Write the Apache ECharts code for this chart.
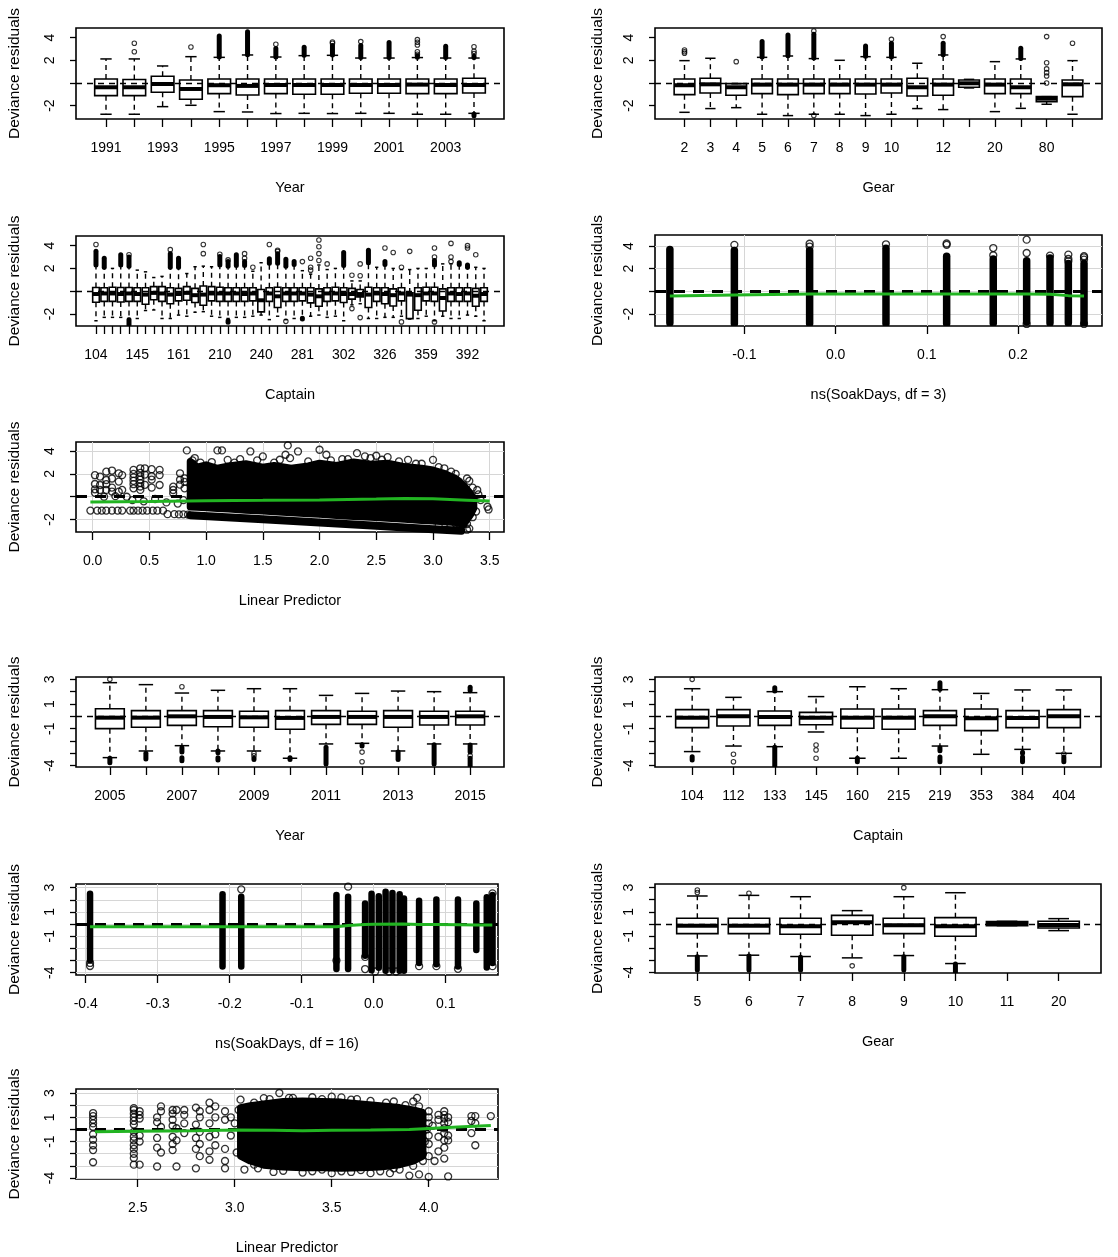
<!DOCTYPE html>
<html><head><meta charset="utf-8">
<script src="https://cdn.jsdelivr.net/npm/echarts@6/dist/echarts.min.js"></script>
<style>html,body{margin:0;padding:0;background:#fff;}#chart{width:1118px;height:1257px;}</style>
</head><body><div id="chart"></div>
<script>
// ================= DATA =================
// Box stats rows: [lower whisker, Q1, median, Q3, upper whisker]
// ---- Panel: Year 1991-2004
const year1Cats = ['1991','1992','1993','1994','1995','1996','1997','1998','1999','2000','2001','2002','2003','2004'];
const year1Labels = ['1991','1993','1995','1997','1999','2001','2003'];
const year1Stats = [
 [-2.76,-1.12,-0.38,0.35,2.12],[-2.76,-1.12,-0.38,0.30,2.12],[-2.09,-0.82,-0.09,0.59,1.50],
 [-1.97,-1.44,-0.53,0.26,2.32],[-2.53,-0.94,-0.20,0.35,2.26],[-2.56,-1.06,-0.26,0.35,2.47],
 [-2.70,-0.94,-0.18,0.35,2.29],[-2.68,-1.00,-0.18,0.35,2.41],[-2.70,-1.00,-0.18,0.35,2.44],
 [-2.68,-0.91,-0.18,0.35,2.20],[-2.68,-0.91,-0.18,0.35,2.20],[-2.76,-0.94,-0.15,0.35,2.24],
 [-2.76,-0.94,-0.18,0.35,2.20],[-2.68,-0.88,-0.18,0.41,2.20]];
const year1Out = [['1992',3.50],['1992',2.76],['1994',3.18],['1997',3.41],['1999',3.50],['1999',3.62],['2000',3.65],
 ['2002',3.82],['2002',3.59],['2002',3.35],['2002',2.76],['2002',2.53],['2004',3.20],['2004',2.80],['2004',2.60]];
const year1Runs = [['1995',2.30,4.15],['1996',2.50,4.53],['1997',2.30,3.05],['1998',2.45,3.15],['1999',2.47,3.30],
 ['2000',2.25,3.30],['2001',2.25,3.56],['2002',2.27,2.40],['2003',2.25,3.24],['2004',2.25,2.35],['2004',-2.75,-2.90]];

// ---- Panel: Gear (top)
const gear1Cats = ['2','3','4','5','6','7','8','9','10','11','12','15','20','30','80','100'];
const gear1Labels = ['2','3','4','5','6','7','8','9','10','12','20','80'];
const gear1Stats = [
 [-2.59,-1.03,-0.20,0.35,1.97],[-2.26,-0.88,-0.12,0.41,2.18],[-2.18,-1.09,-0.38,-0.06,-0.06],
 [-2.76,-0.94,-0.15,0.35,2.26],[-2.88,-1.03,-0.15,0.35,2.38],[-2.76,-0.94,-0.15,0.35,2.15],
 [-2.76,-0.94,-0.15,0.35,2.00],[-2.88,-0.97,-0.15,0.35,2.32],[-2.76,-0.88,-0.15,0.35,2.26],
 [-2.26,-1.15,-0.38,0.41,1.74],[-2.35,-1.09,-0.15,0.35,2.47],[-0.44,-0.38,-0.03,0.26,0.32],
 [-2.53,-0.94,-0.15,0.35,1.88],[-2.24,-0.94,-0.38,0.35,2.12],[-1.88,-1.65,-1.38,-1.21,-1.21],
 [-2.76,-1.21,-0.12,0.26,1.97]];
const gear1Out = [['2',2.62],['2',2.76],['2',2.91],['4',1.88],['7',4.59],['7',-2.88],['10',3.85],['12',4.09],
 ['80',0.0],['80',0.62],['80',0.91],['80',1.24],['80',1.79],['80',4.09],['100',3.5]];
const gear1Runs = [['5',2.3,3.65],['6',2.4,4.24],['7',2.2,4.3],['9',2.35,3.26],['10',2.3,3.5],['12',2.5,3.5],['30',2.15,3.06]];

// ---- Panel: Captain (top)
const captain1Cats = ['104','107','112','126','133','145','150','155','158','160','161','170','183','195','201','210',
 '213','215','219','230','240','247','255','263','270','281','285','290','295','299','302','308','312','318','322',
 '326','330','340','350','353','359','365','370','378','384','392','398','404'];
const captain1Labels = ['104','145','161','210','240','281','302','326','359','392'];
const captain1Stats = [
 [-2.6,-0.97,-0.25,0.32,2.2],[-2.3,-0.9,-0.2,0.3,2.0],[-2.3,-0.9,-0.2,0.35,2.0],[-2.3,-0.95,-0.25,0.32,2.2],
 [-2.4,-0.9,-0.2,0.32,2.1],[-2.4,-0.9,-0.25,0.3,1.85],[-1.7,-1.15,-0.3,0.3,1.7],[-1.65,-0.75,-0.15,0.4,1.2],
 [-2.4,-0.9,-0.2,0.4,1.3],[-2.4,-1.1,-0.3,0.3,2.0],[-2.1,-0.85,-0.25,0.25,2.0],[-2.2,-0.8,-0.15,0.4,1.55],
 [-1.85,-1.0,-0.35,0.25,2.15],[-1.8,-1.24,-0.3,0.45,2.2],[-2.2,-0.85,-0.2,0.4,2.15],[-2.3,-0.9,-0.2,0.35,2.25],
 [-2.4,-0.9,-0.2,0.3,2.2],[-2.3,-0.9,-0.2,0.3,2.2],[-2.3,-0.9,-0.25,0.3,2.2],[-2.2,-0.85,-0.2,0.3,1.75],
 [-2.1,-1.82,-0.8,0.15,2.5],[-2.5,-0.9,-0.2,0.3,2.4],[-2.2,-1.44,-0.45,0.35,2.4],[-2.5,-0.9,-0.2,0.3,2.2],
 [-2.4,-0.9,-0.2,0.3,2.3],[-2.3,-0.85,-0.2,0.3,1.8],[-2.2,-1.03,-0.3,0.3,1.5],[-2.1,-1.32,-0.45,0.2,2.3],
 [-2.3,-0.9,-0.2,0.3,1.9],[-2.2,-0.85,-0.2,0.35,2.0],[-2.6,-1.0,-0.25,0.3,2.2],[-1.2,-0.7,-0.25,0.25,0.9],
 [-1.1,-0.5,-0.25,0.15,0.9],[-2.4,-1.44,-0.3,0.35,2.4],[-2.4,-0.9,-0.2,0.3,2.1],[-2.3,-1.1,-0.25,0.3,2.3],
 [-2.3,-1.3,-0.35,0.2,2.0],[-2.2,-0.85,-0.2,0.3,1.9],[-2.45,-2.41,-0.3,-0.15,1.9],[-2.4,-1.68,-0.35,0.3,2.0],
 [-2.2,-0.85,-0.2,0.35,2.0],[-2.6,-0.9,-0.2,0.35,2.2],[-2.2,-1.74,-0.6,0.2,2.4],[-2.4,-0.9,-0.2,0.3,2.4],
 [-2.4,-0.9,-0.25,0.3,2.3],[-2.1,-0.9,-0.2,0.3,2.0],[-2.2,-1.32,-0.4,0.25,2.1],[-2.6,-0.9,-0.25,0.3,2.0]];
const captain1Out = [['104',4.1],['133',3.2],['160',3.65],['195',3.3],['195',4.1],['210',3.25],['213',2.75],['219',2.9],
 ['219',3.3],['230',2.1],['247',4.1],['255',3.5],['255',3.6],['263',-2.65],['281',2.6],['285',1.85],['285',2.1],
 ['285',2.9],['290',2.7],['290',3.3],['290',3.9],['290',4.5],['295',2.4],['308',1.4],['308',-1.53],['312',1.35],
 ['312',2.4],['312',-2.32],['326',3.8],['330',3.4],['340',2.1],['340',-2.7],['350',3.5],['365',3.0],['365',3.8],
 ['365',-2.7],['378',2.6],['378',3.0],['378',4.2],['392',3.8],['392',4.0],['398',3.2]];
const captain1Runs = [['104',2.3,3.5],['107',2.1,2.9],['126',2.3,3.2],['133',2.2,3.0],['133',-2.5,-2.95],['160',2.1,3.3],
 ['161',2.1,2.9],['210',2.3,3.05],['213',2.2,2.6],['213',-2.6,-2.72],['215',2.25,3.2],['219',2.25,2.6],['247',2.45,2.85],
 ['255',2.45,3.3],['263',2.2,2.8],['270',2.35,2.6],['281',-2.38,-2.45],['302',2.25,3.4],['318',2.5,3.6],['326',2.35,2.6],
 ['365',2.3,2.7],['384',2.35,2.5],['392',2.1,2.3]];

// ---- Panel: ns(SoakDays, df = 3): columns [x, low, high], isolated points [x, y], smoother [x, y]
const soak3Cols = [[-0.1817,-2.79,3.7],[-0.111,-2.85,3.6],[-0.0285,-2.85,3.6],[0.0552,-2.85,3.8],[0.1217,-2.85,3.1],
 [0.1728,-2.82,2.85],[0.2094,-2.7,2.7],[0.235,-2.8,2.95],[0.2551,-2.8,2.45],[0.2723,-2.8,2.45]];
const soak3Pts = [[-0.111,4.1],[-0.0285,4.2],[-0.0285,3.95],[0.0552,4.15],[0.1217,4.1],[0.1217,4.22],[0.1728,3.18],
 [0.1728,3.82],[0.2094,3.38],[0.2094,4.56],[0.2094,-2.88],[0.235,3.15],[0.2551,2.65],[0.2551,2.85],[0.2551,3.24],
 [0.2723,2.8],[0.2723,3.0],[0.2723,3.1],[0.2723,-2.88]];
const soak3Smooth = [[-0.1817,-0.41],[-0.111,-0.32],[-0.0285,-0.235],[0.0552,-0.235],[0.1217,-0.235],[0.1728,-0.235],
 [0.2094,-0.235],[0.235,-0.25],[0.2551,-0.38],[0.2723,-0.41]];
const soak3Ticks = [-0.1,0.0,0.1,0.2];

// ---- Panel: Linear Predictor (top): dense cloud envelope (circle centres) + zero-catch band + isolated points
const lp1CloudX  = [0.86,0.92,1.0,1.1,1.2,1.35,1.5,1.6,1.75,1.9,2.0,2.15,2.3,2.45,2.6,2.75,2.9,3.0,3.1,3.2,3.27,3.33,3.36];
const lp1CloudHi = [3.1,2.6,2.8,2.5,2.7,2.9,2.6,2.75,2.5,2.7,2.95,2.75,3.05,2.85,2.95,2.65,2.5,2.35,2.05,1.6,1.0,0.3,-0.2];
const lp1CloudLo = [-0.9,-0.93,-0.97,-1.03,-1.09,-1.18,-1.26,-1.32,-1.41,-1.5,-1.55,-1.64,-1.73,-1.81,-1.9,-1.99,-2.08,-2.13,-2.2,-2.27,-2.45,-1.6,-1.0];
const lp1Band = [[0.86,-1.62],[1.5,-1.98],[2.0,-2.27],[2.5,-2.56],[3.0,-2.85],[3.25,-3.0]];
const lp1Pts = [
 [-0.02,-1.22],[0.04,-1.22],[0.08,-1.22],[0.12,-1.22],[0.17,-1.22],[0.22,-1.22],[0.26,-1.22],[0.33,-1.22],[0.36,-1.22],
 [0.4,-1.22],[0.44,-1.22],[0.48,-1.22],[0.53,-1.22],[0.57,-1.22],[0.62,-1.22],
 [0.66,-1.53],[0.72,-1.53],[0.76,-1.55],[0.8,-1.55],[0.84,-1.57],
 [0.02,1.89],[0.02,1.12],[0.02,0.65],[0.02,0.35],[0.065,1.77],[0.065,1.03],[0.065,0.59],
 [0.12,2.2],[0.12,1.47],[0.12,1.1],[0.12,0.6],[0.17,2.3],[0.17,1.6],[0.17,0.8],[0.17,0.45],
 [0.23,2.06],[0.23,1.33],[0.23,0.44],[0.26,1.9],[0.26,0.6],
 [0.36,2.36],[0.36,2.0],[0.36,1.7],[0.36,1.4],[0.36,1.1],[0.36,0.74],
 [0.42,2.5],[0.42,2.1],[0.42,1.8],[0.42,1.5],[0.42,1.2],[0.42,0.9],[0.42,0.6],
 [0.46,2.5],[0.46,1.95],[0.46,1.05],[0.52,2.42],[0.52,1.8],[0.52,1.5],[0.52,0.8],
 [0.59,2.36],[0.59,1.9],[0.59,1.03],[0.71,0.88],[0.71,0.59],[0.71,0.3],
 [0.77,2.06],[0.77,1.5],[0.77,1.06],[0.81,1.62],[0.81,1.3],[0.81,0.74],
 [0.35,-0.3],[0.45,-0.4],[0.55,-0.2],[0.65,-0.5],[0.75,-0.6],[0.8,-0.3],[0.1,0.0],[0.2,0.05],[0.3,0.0],
 [0.83,4.07],[1.1,4.07],[1.14,4.07],[1.39,3.98],[1.72,4.51],[1.70,3.69],[1.74,3.39],[1.81,3.98],[2.0,4.13],
 [2.06,3.69],[2.33,3.83],[2.4,3.55],[2.6,3.48],[2.78,3.24],[3.0,3.24],[3.16,2.21],[3.23,1.33],[3.32,1.39],
 [3.39,0.59],[3.48,-0.88],[3.49,-1.12],[3.32,-2.8],[3.24,-2.65],[3.28,-0.59],[1.5,3.54],[1.19,3.24],[0.9,3.4],
 [2.2,3.3],[2.5,3.6],[2.9,2.9],[3.1,2.5],[3.05,-2.5],[3.15,-2.7],[3.3,-2.4],
 [1.05,3.05],[1.25,3.0],[1.45,3.2],[1.6,3.0],[1.9,3.1],[2.1,3.2],[2.25,3.3],[2.55,3.25],[2.7,3.1],[2.85,2.9],
 [1.3,3.3],[1.65,3.25],[2.45,3.4],[3.05,2.6],[3.2,2.0],[3.3,1.6],[3.35,0.8],[3.4,0.2],[3.42,-0.3],[3.38,-1.3],
 [3.35,-1.8],[3.3,-2.9],[3.2,-2.9],[0.88,3.2],[0.88,2.9],[0.95,3.0]];
const lp1Smooth = [[-0.02,-0.47],[0.5,-0.42],[1.0,-0.35],[1.5,-0.32],[2.0,-0.28],[2.5,-0.2],[2.75,-0.15],[3.0,-0.18],[3.3,-0.3],[3.5,-0.38]];
const lp1Ticks = [0.0,0.5,1.0,1.5,2.0,2.5,3.0,3.5];

// ---- Panel: Year 2005-2015
const year2Cats = ['2005','2006','2007','2008','2009','2010','2011','2012','2013','2014','2015'];
const year2Labels = ['2005','2007','2009','2011','2013','2015'];
const year2Stats = [
 [-3.35,-1.0,-0.11,0.62,2.73],[-2.81,-0.89,-0.11,0.46,2.57],[-2.38,-0.73,0.0,0.46,1.89],[-2.81,-0.84,-0.05,0.46,2.11],
 [-2.81,-0.89,-0.08,0.41,2.24],[-3.4,-1.05,-0.13,0.46,2.24],[-2.24,-0.65,-0.05,0.46,1.7],[-2.19,-0.65,-0.05,0.41,1.86],
 [-2.81,-0.89,-0.05,0.46,2.05],[-2.24,-0.7,-0.05,0.41,2.0],[-2.24,-0.7,0.0,0.41,1.92]];
const year2Out = [['2005',3.0],['2007',2.4],['2009',-3.0],['2009',-3.2],['2012',-2.9],['2012',-3.68],['2015',-3.2]];
const year2Runs = [['2005',-3.4,-3.76],['2006',-3.0,-3.46],['2007',-2.55,-2.9],['2007',-3.35,-3.6],['2008',-2.82,-2.95],
 ['2008',-3.35,-3.54],['2009',-3.4,-3.5],['2010',-3.35,-3.5],['2011',-2.5,-3.86],['2012',-2.3,-2.4],['2013',-2.9,-3.5],
 ['2014',-2.3,-3.86],['2015',2.1,2.35],['2015',-2.32,-2.9],['2015',-3.4,-4.03]];

// ---- Panel: Captain (bottom)
const captain2Cats = ['104','112','133','145','160','215','219','353','384','404'];
const captain2Labels = captain2Cats;
const captain2Stats = [
 [-2.86,-0.92,-0.11,0.54,2.24],[-2.41,-0.78,0.0,0.54,1.54],[-2.46,-0.73,-0.05,0.43,2.0],[-1.27,-0.68,-0.11,0.32,1.6],
 [-3.4,-0.97,-0.11,0.59,2.4],[-3.4,-1.05,-0.11,0.59,2.24],[-2.41,-0.73,0.0,0.46,2.16],[-3.08,-1.16,-0.16,0.59,1.86],
 [-2.68,-0.92,-0.13,0.46,2.14],[-3.0,-0.92,0.0,0.54,2.14]];
const captain2Out = [['104',3.0],['112',-3.08],['112',-3.68],['145',-2.32],['145',-2.73],['145',-3.4],['404',-3.05]];
const captain2Runs = [['104',-3.27,-3.54],['133',2.05,2.32],['133',-2.5,-4.03],['160',-3.4,-3.68],['219',2.2,2.73],
 ['219',-2.54,-2.8],['219',-3.3,-3.68],['384',-2.92,-3.0],['384',-3.3,-3.68],['404',-3.3,-3.68]];

// ---- Panel: ns(SoakDays, df = 16)
const soak16Cols = [[-0.394,-3.0,2.5],[-0.21,-3.5,2.45],[-0.184,-3.5,2.25],[-0.0518,-3.7,2.4],[-0.0356,-3.7,2.25],
 [-0.012,-2.6,1.7],[-0.003,-3.8,2.5],[0.007,-3.6,2.3],[0.0165,-3.85,2.66],[0.026,-3.8,2.55],[0.036,-3.85,2.45],
 [0.042,-3.85,2.1],[0.063,-3.2,1.92],[0.087,-3.3,2.03],[0.117,-3.5,2.03],[0.1425,-2.14,1.7],[0.157,-3.57,2.2],[0.165,-3.2,2.4]];
const soak16Pts = [[-0.394,-3.2],[-0.394,-3.45],[-0.184,2.86],[-0.0518,-3.0],[-0.0356,3.08],[-0.012,-2.7],[-0.012,-3.7],
 [0.063,-3.46],[0.087,-3.46],[0.117,-3.68],[0.165,2.53],[0.165,-3.46],[0.002,-3.9],[0.021,-3.9],[0.031,-3.9]];
const soak16Smooth = [[-0.394,-0.22],[-0.21,-0.22],[-0.184,-0.22],[-0.0518,-0.21],[-0.0356,-0.11],[-0.012,-0.03],[0.0,-0.02],
 [0.04,0.0],[0.0629,-0.03],[0.0878,-0.03],[0.1193,-0.05],[0.1425,-0.08],[0.1647,-0.08]];
const soak16Ticks = [-0.4,-0.3,-0.2,-0.1,0.0,0.1];

// ---- Panel: Gear (bottom)
const gear2Cats = ['5','6','7','8','9','10','11','20'];
const gear2Labels = gear2Cats;
const gear2Stats = [
 [-2.64,-0.8,-0.14,0.47,2.31],[-2.58,-0.8,-0.14,0.47,2.36],[-2.69,-0.85,-0.19,0.47,2.25],[-2.8,-0.93,0.14,0.71,1.1],
 [-2.61,-0.8,-0.11,0.47,2.25],[-3.27,-1.02,-0.19,0.52,2.58],[-0.14,-0.14,0.05,0.19,0.22],[-0.55,-0.33,-0.08,0.22,0.44]];
const gear2Out = [['5',2.6],['5',2.8],['6',2.53],['8',-3.46],['9',3.0]];
const gear2Runs = [['5',-2.7,-3.8],['6',-2.65,-3.8],['7',-2.75,-3.8],['9',-2.7,-3.8],['10',-3.3,-4.05]];

// ---- Panel: Linear Predictor (bottom)
const lp2CloudX  = [3.03,3.08,3.15,3.25,3.35,3.45,3.55,3.65,3.75,3.85,3.92,3.97];
const lp2CloudHi = [1.8,1.95,2.1,2.3,2.35,2.3,2.25,2.1,1.95,1.8,1.6,1.4];
const lp2CloudLo = [-2.2,-2.6,-2.95,-3.1,-3.15,-3.15,-3.2,-3.15,-3.1,-2.9,-2.6,-2.2];
const lp2Pts = [
 [2.27,1.35],[2.27,1.1],[2.27,0.8],[2.27,0.5],[2.27,0.2],[2.27,-0.4],[2.27,-0.85],[2.27,-1.3],[2.27,-1.7],[2.27,-2.7],
 [2.48,1.76],[2.48,1.6],[2.48,1.3],[2.48,1.0],[2.48,0.7],[2.48,0.4],[2.48,-0.2],[2.48,-0.6],[2.48,-0.9],[2.48,-1.3],
 [2.48,-1.6],[2.48,-2.0],[2.48,-2.36],[2.48,-2.9],[2.51,1.5],[2.51,1.2],[2.51,0.9],[2.51,-0.5],[2.51,-1.0],[2.51,-2.9],
 [2.6,1.0],[2.6,0.6],[2.6,-0.7],[2.6,-1.5],[2.6,-3.05],[2.62,1.9],[2.62,1.5],[2.62,0.2],[2.62,-1.9],
 [2.68,1.6],[2.68,1.3],[2.68,0.8],[2.68,0.3],[2.68,-0.6],[2.68,-1.2],[2.68,-1.7],[2.7,1.6],[2.7,0.1],[2.7,-0.9],[2.7,-3.05],
 [2.74,1.6],[2.74,1.2],[2.74,0.5],[2.74,-0.3],[2.8,1.8],[2.8,0.4],[2.8,-0.7],[2.8,-1.6],[2.8,-3.2],
 [2.82,1.5],[2.82,1.0],[2.82,-0.2],[2.82,-1.2],[2.82,-2.2],[2.87,2.2],[2.87,1.6],[2.87,0.5],[2.87,-0.6],[2.87,-1.8],[2.87,-2.5],
 [2.9,1.9],[2.9,1.0],[2.9,-0.4],[2.9,-1.3],[2.95,1.5],[2.95,0.8],[2.95,-1.6],[2.95,-2.6],[2.95,-3.2],[2.98,1.0],[2.98,-0.5],
 [4.0,1.5],[4.0,1.0],[4.0,0.5],[4.0,-0.5],[4.0,-1.2],[4.0,-2.2],[4.0,-3.9],[4.05,1.2],[4.05,0.8],[4.05,-0.6],[4.05,-1.8],
 [4.08,1.5],[4.08,1.2],[4.08,0.9],[4.08,0.5],[4.08,0.1],[4.08,-0.3],[4.08,-0.9],[4.08,-1.5],[4.08,-2.4],
 [4.1,1.0],[4.1,0.6],[4.1,-0.5],[4.1,-0.9],[4.1,-3.87],[4.22,1.1],[4.22,0.7],[4.22,-0.3],[4.24,1.1],[4.24,0.5],[4.24,-1.3],[4.32,1.1],
 [3.03,2.45],[3.15,2.58],[3.23,3.0],[3.28,2.6],[3.4,2.65],[3.55,2.64],[3.63,2.5],[3.82,2.3],[3.92,2.3],[3.94,2.6],
 [3.05,-3.3],[3.1,-2.9],[3.2,-3.5],[3.35,-3.55],[3.5,-3.6],[3.6,-3.5],[3.7,-3.6],[3.8,-3.6],[3.85,-3.3],[3.9,-3.8],[3.95,-3.7],
 [3.1,2.2],[3.18,2.5],[3.3,2.6],[3.45,2.5],[3.5,2.7],[3.6,2.45],[3.7,2.35],[3.78,2.2],[3.88,2.0],[3.95,1.9],
 [3.12,-3.2],[3.25,-3.4],[3.4,-3.45],[3.45,-3.3],[3.55,-3.45],[3.65,-3.35],[3.75,-3.45],[3.82,-3.2],[3.92,-3.0],[3.97,-2.6],
 [3.98,-1.0],[3.99,0.0],[4.02,0.3],[4.03,-2.6],[3.97,-2.0],[3.01,-1.9],[3.02,1.6],[3.0,0.5]];
const lp2Smooth = [[2.28,-0.19],[2.5,-0.15],[2.8,-0.1],[3.0,-0.04],[3.2,-0.07],[3.35,-0.11],[3.5,-0.07],[3.7,-0.04],
 [3.9,0.0],[4.0,0.08],[4.15,0.2],[4.32,0.33]];
const lp2Ticks = [2.5,3.0,3.5,4.0];

// y-axis tick values and labelled ticks
const yTicksTop = [-2,0,2,4], yLabelsTop = [-2,2,4];
const yTicksBottom = [-4,-3,-2,-1,0,1,2,3], yLabelsBottom = [-4,-1,1,3];

// ================= CHART =================
const FONT = '"Liberation Sans", Arial, Helvetica, sans-serif';
const BLACK = '#000', GREEN = '#22b422';
const grids = [], xAxes = [], yAxes = [], series = [];

function addPanel(p) {
  const gi = grids.length;
  grids.push({left:p.rect[0], top:p.rect[1], width:p.rect[2], height:p.rect[3], show:true,
    borderColor:BLACK, borderWidth:1.6, backgroundColor:'rgba(0,0,0,0)'});
  const txt = {color:BLACK, fontSize:14, fontFamily:FONT};
  xAxes.push({gridIndex:gi, type:'value', min:p.xRange[0], max:p.xRange[1], position:'bottom',
    name:p.xName, nameLocation:'middle', nameGap:61, nameTextStyle:{color:BLACK, fontSize:14.5, fontFamily:FONT},
    axisLine:{show:false, onZero:false},
    axisTick:{show:true, length:8, customValues:p.xTicks, lineStyle:{color:BLACK, width:1.3}},
    axisLabel:Object.assign({show:true, customValues:p.xLabelVals, formatter:p.xFmt, margin:22}, txt),
    splitLine:{show:!!p.grid, lineStyle:{color:'#d6d6d6', width:1}}});
  yAxes.push({gridIndex:gi, type:'value', min:p.yRange[0], max:p.yRange[1], position:'left',
    name:'Deviance residuals', nameLocation:'middle', nameGap:p.yNameGap,
    nameTextStyle:{color:BLACK, fontSize:15.5, fontFamily:FONT},
    axisLine:{show:false, onZero:false},
    axisTick:{show:true, length:6, customValues:p.yTicks, lineStyle:{color:BLACK, width:1.3}},
    axisLabel:Object.assign({show:true, customValues:p.yLabelVals, rotate:90, margin:19, formatter:v => String(v)}, txt),
    splitLine:{show:!!p.grid, lineStyle:{color:'#d6d6d6', width:1}}});
  return gi;
}

function zeroMark(thick) {
  return {silent:true, symbol:['none','none'], label:{show:false}, data:[{yAxis:0}], animation:false,
    lineStyle:{color:BLACK, type: thick ? [11,8] : [6,5], width: thick ? 3.2 : 1.3}};
}

function renderBox(params, api) {
  const x = api.value(0), lo = api.value(1), q1 = api.value(2), md = api.value(3), q3 = api.value(4), hi = api.value(5);
  const hw = 0.4, sw = 0.2;
  const bl = api.coord([x - hw, q1]), tr = api.coord([x + hw, q3]);
  const pHi = api.coord([x, hi]), pQ3 = api.coord([x, q3]), pQ1 = api.coord([x, q1]), pLo = api.coord([x, lo]);
  const sL = api.coord([x - sw, 0])[0], sR = api.coord([x + sw, 0])[0];
  const mL = api.coord([x - hw, md]), mR = api.coord([x + hw, md]);
  const dash = {stroke:BLACK, lineWidth:1.4, lineDash:[5,4]};
  const solid = {stroke:BLACK, lineWidth:1.5};
  return {type:'group', children:[
    {type:'line', shape:{x1:pQ3[0], y1:pQ3[1], x2:pHi[0], y2:pHi[1]}, style:dash},
    {type:'line', shape:{x1:pQ1[0], y1:pQ1[1], x2:pLo[0], y2:pLo[1]}, style:dash},
    {type:'line', shape:{x1:sL, y1:pHi[1], x2:sR, y2:pHi[1]}, style:solid},
    {type:'line', shape:{x1:sL, y1:pLo[1], x2:sR, y2:pLo[1]}, style:solid},
    {type:'rect', shape:{x:bl[0], y:tr[1], width:tr[0]-bl[0], height:bl[1]-tr[1]}, style:{fill:'rgba(0,0,0,0)', stroke:BLACK, lineWidth:1.6}},
    {type:'line', shape:{x1:mL[0], y1:mL[1], x2:mR[0], y2:mR[1]}, style:{stroke:BLACK, lineWidth:4}}
  ]};
}

function runRenderer(w) {
  return function (params, api) {
    const a = api.coord([api.value(0), api.value(1)]), b = api.coord([api.value(0), api.value(2)]);
    return {type:'line', shape:{x1:a[0], y1:a[1], x2:b[0], y2:b[1]}, style:{stroke:BLACK, lineWidth:w, lineCap:'round'}};
  };
}

function boxPanel(p, cats, labels, stats, outs, runs) {
  const idx = c => cats.indexOf(c) + 1;
  const gi = addPanel(Object.assign({}, p, {
    xRange:[0.5 - 0.04*cats.length, cats.length + 0.5 + 0.04*cats.length],
    xTicks:cats.map((c, i) => i + 1), xLabelVals:labels.map(idx),
    xFmt:v => cats[Math.round(v) - 1]}));
  const base = {xAxisIndex:gi, yAxisIndex:gi, silent:true, animation:false};
  series.push(Object.assign({type:'custom', coordinateSystem:'cartesian2d', clip:true, z:2,
    data:stats.map((s, i) => [i + 1].concat(s)), encode:{x:0, y:[1,2,3,4,5]}, renderItem:renderBox}, base));
  series.push(Object.assign({type:'custom', coordinateSystem:'cartesian2d', clip:true, z:3,
    data:runs.map(r => [idx(r[0]), r[1], r[2]]), encode:{x:0, y:[1,2]}, renderItem:runRenderer(5)}, base));
  series.push(Object.assign({type:'scatter', z:3, data:outs.map(o => [idx(o[0]), o[1]]), symbol:'circle', symbolSize:4.5,
    itemStyle:{color:'rgba(0,0,0,0)', borderColor:BLACK, borderWidth:1.1}, markLine:zeroMark(false)}, base));
}

function scatterPanel(p, d) {
  const gi = addPanel(Object.assign({}, p, {grid:true, xLabelVals:p.xTicks, xFmt:v => v.toFixed(1)}));
  const base = {xAxisIndex:gi, yAxisIndex:gi, silent:true, animation:false};
  if (d.cloud) {
    const c = d.cloud;
    series.push(Object.assign({type:'custom', coordinateSystem:'cartesian2d', clip:true, z:2,
      data:[[c.x[0], c.hi[0]]], encode:{x:0, y:1},
      renderItem:(params, api) => {
        const pts = [];
        c.x.forEach((x, i) => pts.push(api.coord([x, c.hi[i]])));
        for (let i = c.x.length - 1; i >= 0; i--) pts.push(api.coord([c.x[i], c.lo[i]]));
        return {type:'polygon', shape:{points:pts}, style:{fill:BLACK, stroke:BLACK, lineWidth:7, lineJoin:'round'}};
      }}, base));
  }
  if (d.band) {
    series.push(Object.assign({type:'line', z:2, data:d.band, symbol:'none', lineStyle:{color:BLACK, width:8, cap:'round'}}, base));
  }
  if (d.cols) {
    series.push(Object.assign({type:'custom', coordinateSystem:'cartesian2d', clip:true, z:2,
      data:d.cols, encode:{x:0, y:[1,2]}, renderItem:runRenderer(d.colW)}, base));
  }
  series.push(Object.assign({type:'scatter', z:3, data:d.pts, symbol:'circle', symbolSize:7, clip:true,
    itemStyle:{color:'rgba(0,0,0,0)', borderColor:BLACK, borderWidth:1.3}, markLine:zeroMark(true)}, base));
  series.push(Object.assign({type:'line', z:6, data:d.smooth, symbol:'none', lineStyle:{color:GREEN, width:3}}, base));
}

// ---- build panels
boxPanel({rect:[76,28,428,91], yRange:[-3.18,4.85], yTicks:yTicksTop, yLabelVals:yLabelsTop, yNameGap:53, xName:'Year'},
  year1Cats, year1Labels, year1Stats, year1Out, year1Runs);
boxPanel({rect:[655,28,447,91], yRange:[-3.18,4.85], yTicks:yTicksTop, yLabelVals:yLabelsTop, yNameGap:49, xName:'Gear'},
  gear1Cats, gear1Labels, gear1Stats, gear1Out, gear1Runs);
boxPanel({rect:[76,236,428,90], yRange:[-3.06,4.85], yTicks:yTicksTop, yLabelVals:yLabelsTop, yNameGap:53, xName:'Captain'},
  captain1Cats, captain1Labels, captain1Stats, captain1Out, captain1Runs);
scatterPanel({rect:[655,235,447,91], xRange:[-0.198,0.292], yRange:[-3.06,4.97], xTicks:soak3Ticks,
  yTicks:yTicksTop, yLabelVals:yLabelsTop, yNameGap:49, xName:'ns(SoakDays, df = 3)'},
  {cols:soak3Cols, colW:7.5, pts:soak3Pts, smooth:soak3Smooth});
scatterPanel({rect:[76,442,428,90], xRange:[-0.147,3.626], yRange:[-3.1,4.81], xTicks:lp1Ticks,
  yTicks:yTicksTop, yLabelVals:yLabelsTop, yNameGap:53, xName:'Linear Predictor'},
  {cloud:{x:lp1CloudX, hi:lp1CloudHi, lo:lp1CloudLo}, band:lp1Band, pts:lp1Pts, smooth:lp1Smooth});
boxPanel({rect:[76,677,428,90], yRange:[-4.11,3.19], yTicks:yTicksBottom, yLabelVals:yLabelsBottom, yNameGap:53, xName:'Year'},
  year2Cats, year2Labels, year2Stats, year2Out, year2Runs);
boxPanel({rect:[655,677,446,90], yRange:[-4.11,3.19], yTicks:yTicksBottom, yLabelVals:yLabelsBottom, yNameGap:49, xName:'Captain'},
  captain2Cats, captain2Labels, captain2Stats, captain2Out, captain2Runs);
scatterPanel({rect:[76,884,422,91], xRange:[-0.4135,0.1726], yRange:[-4.19,3.3], xTicks:soak16Ticks,
  yTicks:yTicksBottom, yLabelVals:yLabelsBottom, yNameGap:53, xName:'ns(SoakDays, df = 16)'},
  {cols:soak16Cols, colW:6.5, pts:soak16Pts, smooth:soak16Smooth});
boxPanel({rect:[655,884,446,89], yRange:[-4.05,3.3], yTicks:yTicksBottom, yLabelVals:yLabelsBottom, yNameGap:49, xName:'Gear'},
  gear2Cats, gear2Labels, gear2Stats, gear2Out, gear2Runs);
scatterPanel({rect:[76,1089,422,90], xRange:[2.182,4.357], yRange:[-4.08,3.33], xTicks:lp2Ticks,
  yTicks:yTicksBottom, yLabelVals:yLabelsBottom, yNameGap:53, xName:'Linear Predictor'},
  {cloud:{x:lp2CloudX, hi:lp2CloudHi, lo:lp2CloudLo}, pts:lp2Pts, smooth:lp2Smooth});

const chart = echarts.init(document.getElementById('chart'), null, {renderer:'canvas'});
chart.setOption({backgroundColor:'#fff', animation:false, grid:grids, xAxis:xAxes, yAxis:yAxes, series:series});
</script></body></html>
